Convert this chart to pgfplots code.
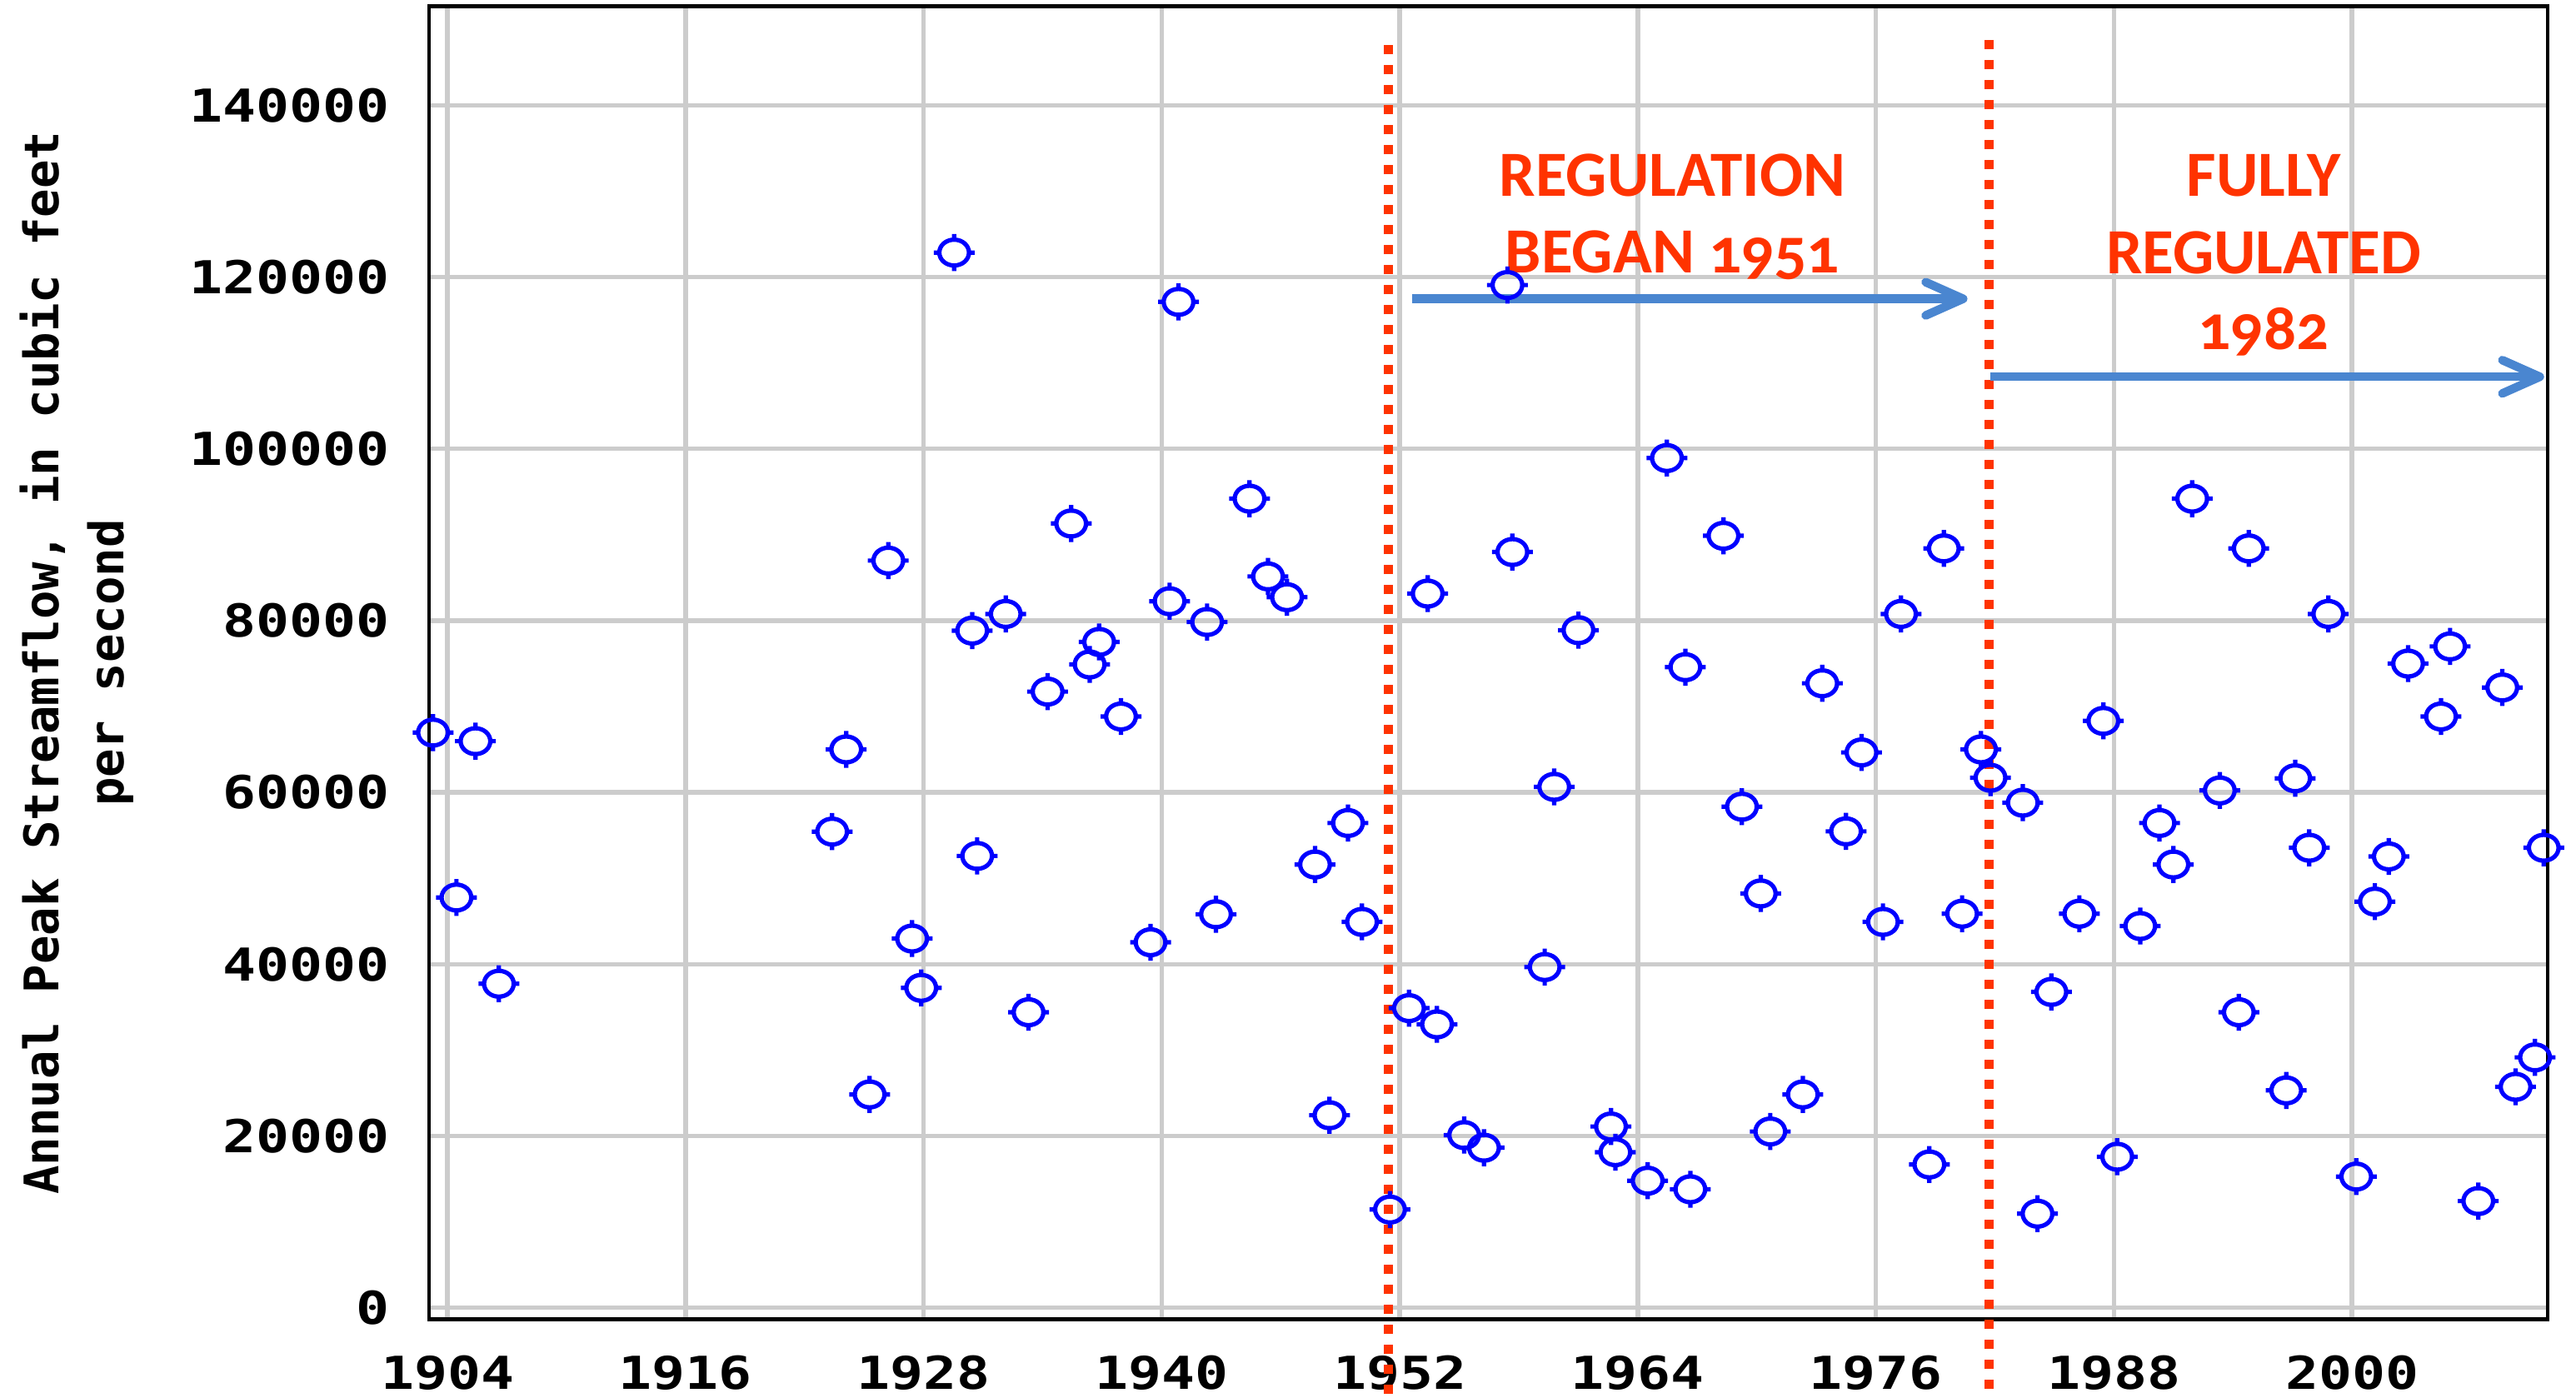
\documentclass[border=0pt]{standalone}
\usepackage{pgfplots}
\pgfplotsset{compat=1.18}
\usepackage{pgfplotstable}
\usepackage{graphicx}
\usepackage{fontspec}
\usetikzlibrary{arrows.meta}
\newfontfamily\dvm{DejaVu Sans Mono}
\newfontfamily\carl{Carlito}[Numbers=OldStyle]
\definecolor{ptblue}{HTML}{0000FF}
\definecolor{redor}{HTML}{FF3300}
\definecolor{arrblue}{HTML}{4A86D0}
\definecolor{gridgray}{HTML}{CCCCCC}

\pgfdeclareplotmark{usgs}{%
  \pgfpathellipse{\pgfpointorigin}{\pgfpoint{0.178cm}{0cm}}{\pgfpoint{0cm}{0.155cm}}%
  \pgfpathmoveto{\pgfpoint{0.178cm}{0cm}}\pgfpathlineto{\pgfpoint{0.245cm}{0cm}}%
  \pgfpathmoveto{\pgfpoint{-0.178cm}{0cm}}\pgfpathlineto{\pgfpoint{-0.245cm}{0cm}}%
  \pgfpathmoveto{\pgfpoint{0cm}{0.155cm}}\pgfpathlineto{\pgfpoint{0cm}{0.222cm}}%
  \pgfpathmoveto{\pgfpoint{0cm}{-0.155cm}}\pgfpathlineto{\pgfpoint{0cm}{-0.222cm}}%
  \pgfusepathqstroke}

\pgfplotstableread{
year value
1903.27 66960
1904.45 47760
1905.41 65960
1906.59 37720
1923.39 55430
1924.10 65000
1925.28 24830
1926.22 86980
1927.42 42980
1927.88 37240
1929.54 122840
1930.45 78830
1930.70 52600
1932.14 80770
1933.29 34400
1934.25 71730
1935.44 91300
1936.37 74890
1936.85 77510
1937.95 68830
1939.44 42550
1940.40 82250
1940.85 117100
1942.29 79830
1942.74 45810
1944.43 94190
1945.36 85140
1946.32 82720
1947.73 51600
1948.46 22410
1949.39 56430
1950.10 44920
1951.51 11430
1952.47 34880
1953.41 83140
1953.88 32990
1955.25 20100
1956.25 18630
1957.43 119060
1957.68 87980
1959.31 39660
1959.79 60640
1961.01 78880
1962.65 21100
1962.87 18110
1964.50 14790
1965.47 98920
1966.40 74570
1966.65 13790
1968.32 89870
1969.25 58330
1970.20 48230
1970.68 20520
1972.32 24830
1973.30 72700
1974.50 55460
1975.28 64650
1976.36 44920
1977.27 80770
1978.70 16680
1979.43 88400
1980.35 45870
1981.30 65000
1981.78 61700
1983.41 58800
1984.15 10950
1984.85 36770
1986.26 45870
1987.47 68320
1988.17 17580
1989.33 44440
1990.30 56430
1991.00 51600
1991.95 94190
1993.34 60220
1994.30 34400
1994.80 88400
1996.69 25300
1997.14 61640
1997.85 53550
1998.81 80770
2000.22 15270
2001.16 47280
2001.86 52540
2002.83 74990
2004.49 68830
2004.95 76990
2006.37 12420
2007.58 72210
2008.25 25720
2009.23 29150
2009.67 53550
}\peaks

\begin{document}
\begin{tikzpicture}
\begin{axis}[
  scale only axis, width=25.43cm, height=15.757cm,
  xmin=1903.07, xmax=2009.87, ymin=-1330, ymax=151500,
  xtick={1904,1916,...,2000}, ytick={0,20000,...,140000},
  scaled x ticks=false, scaled y ticks=false,
  grid=major, major grid style={draw=gridgray, line width=0.054cm},
  major tick length=0pt,
  axis line style={line width=0.045cm, black},
  /pgf/number format/1000 sep={},
  /pgf/number format/assume math mode=true,
  xticklabel style={font=\dvm\bfseries\fontsize{15.5}{18}\selectfont, inner sep=0pt, anchor=north, yshift=-0.43cm},
  yticklabel style={font=\dvm\bfseries\fontsize{15.5}{18}\selectfont, inner sep=0pt, anchor=east, xshift=-0.47cm},
  xticklabel={\scalebox{1.22}[1]{\pgfmathprintnumber[fixed,precision=0]{\tick}}},
  yticklabel={\scalebox{1.22}[1]{\pgfmathprintnumber[fixed,precision=0]{\tick}}},
  ylabel={Annual Peak Streamflow, in cubic feet\\per second},
  ylabel style={font=\dvm\bfseries\fontsize{16.3}{22.2}\selectfont, align=center, inner sep=0pt, at={(axis description cs:-0.1935,0.5)}, anchor=north},
  clip=false,
]
\addplot[only marks, mark=usgs, mark options={draw=ptblue, line width=0.052cm}] table[x=year, y=value] {\peaks};

\draw[redor, line width=0.11cm, dash pattern=on 0.11cm off 0.13cm] (axis cs:1951.42,147000) -- (axis cs:1951.42,-12000);
\draw[redor, line width=0.11cm, dash pattern=on 0.11cm off 0.13cm] (axis cs:1981.70,147600) -- (axis cs:1981.70,-12000);

\draw[arrblue, line width=0.103cm, -{Straight Barb[length=0.45cm, width=0.4cm, round]}] (axis cs:1952.63,117460) -- (axis cs:1980.62,117460);
\draw[arrblue, line width=0.103cm, -{Straight Barb[length=0.45cm, width=0.4cm, round]}] (axis cs:1981.76,108380) -- (axis cs:2009.69,108380);

\node[redor, font=\carl\bfseries\fontsize{22}{26}\selectfont, anchor=base, inner sep=0pt] at (axis cs:1965.75,129410) {REGULATION};
\node[redor, font=\carl\bfseries\fontsize{22}{26}\selectfont, anchor=base, inner sep=0pt] at (axis cs:1965.75,120490) {BEGAN 1951};
\node[redor, font=\carl\bfseries\fontsize{22}{26}\selectfont, anchor=base, inner sep=0pt] at (axis cs:1995.55,129410) {FULLY};
\node[redor, font=\carl\bfseries\fontsize{22}{26}\selectfont, anchor=base, inner sep=0pt] at (axis cs:1995.55,120400) {REGULATED};
\node[redor, font=\carl\bfseries\fontsize{22}{26}\selectfont, anchor=base, inner sep=0pt] at (axis cs:1995.55,111520) {1982};
\end{axis}
\path (current axis.south west) ++(-5.15cm,-0.946cm) coordinate (BL);
\path (current axis.north east) ++(0.34cm,0.077cm) coordinate (TR);
\pgfresetboundingbox
\useasboundingbox (BL) rectangle (TR);
\end{tikzpicture}
\end{document}
